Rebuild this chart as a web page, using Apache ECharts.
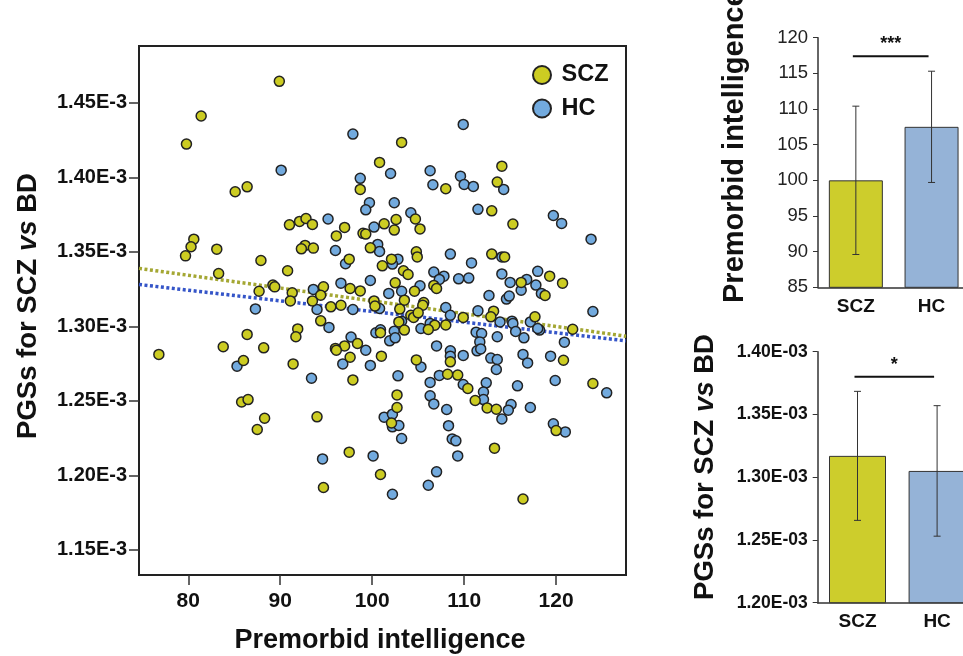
<!DOCTYPE html>
<html><head><meta charset="utf-8">
<script src="https://cdn.jsdelivr.net/npm/echarts@6/dist/echarts.min.js"></script>
<style>html,body{margin:0;padding:0;background:#fff}#c{width:963px;height:656px}</style>
</head><body><div id="c"></div>
<script>
// PGS values are expressed in units of 1E-3
const groups = ['SCZ', 'HC'];
const sczPoints = [[89.9,1.4644],[81.4,1.4411],[79.8,1.4223],[100.8,1.4100],[98.7,1.3919],[85.1,1.3903],[86.4,1.3936],[91.0,1.3681],[92.1,1.3704],[92.8,1.3724],[93.5,1.3684],[97.0,1.3664],[96.1,1.3607],[101.3,1.3688],[99.0,1.3624],[99.3,1.3619],[99.8,1.3527],[80.6,1.3585],[80.3,1.3534],[79.7,1.3473],[83.1,1.3518],[92.7,1.3543],[92.3,1.3520],[93.6,1.3525],[97.5,1.3451],[101.1,1.3406],[87.9,1.3442],[90.8,1.3373],[83.3,1.3355],[97.6,1.3254],[98.7,1.3238],[94.7,1.3265],[94.4,1.3209],[89.2,1.3277],[89.4,1.3265],[87.7,1.3236],[91.3,1.3225],[91.1,1.3171],[93.5,1.3171],[100.2,1.3171],[100.3,1.3136],[95.5,1.3131],[96.6,1.3142],[94.4,1.3037],[91.9,1.2983],[91.7,1.2930],[86.4,1.2946],[98.4,1.2885],[97.0,1.2869],[96.0,1.2852],[96.1,1.2840],[97.6,1.2793],[101.0,1.2800],[100.9,1.2957],[76.8,1.2812],[83.8,1.2863],[88.2,1.2856],[86.0,1.2771],[91.4,1.2748],[97.9,1.2641],[85.8,1.2493],[86.5,1.2509],[88.3,1.2384],[87.5,1.2308],[94.0,1.2393],[97.5,1.2156],[100.9,1.2006],[94.7,1.1919],[103.2,1.4234],[108.0,1.3923],[114.1,1.4075],[113.6,1.3968],[104.7,1.3720],[105.2,1.3654],[102.6,1.3717],[102.4,1.3646],[113.0,1.3775],[115.3,1.3686],[104.8,1.3500],[104.9,1.3466],[102.1,1.3451],[113.0,1.3485],[114.4,1.3466],[103.4,1.3373],[103.9,1.3348],[116.2,1.3295],[119.3,1.3337],[120.7,1.3290],[118.8,1.3207],[102.5,1.3292],[104.6,1.3236],[106.7,1.3275],[107.0,1.3254],[103.5,1.3176],[105.6,1.3160],[105.5,1.3142],[103.0,1.3116],[104.2,1.3075],[104.5,1.3060],[105.0,1.3091],[102.9,1.3030],[106.8,1.3008],[106.1,1.2979],[108.0,1.3010],[109.9,1.3060],[113.2,1.3102],[112.9,1.3064],[117.7,1.3064],[121.8,1.2981],[103.5,1.2975],[104.8,1.2775],[108.5,1.2762],[120.8,1.2773],[124.0,1.2617],[108.2,1.2679],[109.3,1.2673],[110.4,1.2583],[102.7,1.2540],[102.7,1.2456],[102.1,1.2352],[111.2,1.2503],[112.5,1.2453],[113.5,1.2444],[120.0,1.2301],[113.3,1.2183],[116.4,1.1842]];
const hcPoints = [[97.9,1.4290],[90.1,1.4048],[98.7,1.3993],[102.0,1.4026],[99.7,1.3829],[99.3,1.3782],[95.2,1.3720],[100.2,1.3666],[100.6,1.3550],[100.8,1.3503],[96.0,1.3509],[97.1,1.3420],[99.8,1.3308],[96.6,1.3290],[93.6,1.3248],[101.8,1.3221],[87.3,1.3117],[94.0,1.3113],[97.9,1.3113],[100.8,1.3120],[95.3,1.2993],[97.7,1.2928],[99.3,1.2840],[96.8,1.2748],[99.8,1.2738],[100.4,1.2957],[100.9,1.2977],[101.9,1.2903],[85.3,1.2733],[93.4,1.2652],[101.3,1.2391],[100.1,1.2131],[94.6,1.2111],[102.2,1.1874],[109.9,1.4355],[106.3,1.4044],[106.6,1.3950],[109.6,1.4008],[110.0,1.3952],[111.0,1.3939],[114.3,1.3919],[102.4,1.3829],[104.2,1.3762],[111.5,1.3785],[119.7,1.3744],[120.6,1.3691],[123.8,1.3585],[108.5,1.3485],[102.8,1.3451],[102.2,1.3418],[114.1,1.3466],[110.8,1.3426],[106.7,1.3364],[107.8,1.3337],[107.3,1.3315],[109.4,1.3319],[110.5,1.3324],[114.1,1.3352],[115.0,1.3295],[116.8,1.3315],[116.2,1.3243],[118.0,1.3369],[117.8,1.3277],[118.4,1.3221],[103.2,1.3236],[105.2,1.3272],[112.7,1.3207],[114.6,1.3183],[114.9,1.3203],[108.0,1.3127],[108.5,1.3075],[103.2,1.3035],[105.3,1.2986],[106.3,1.3020],[111.5,1.3104],[113.9,1.3030],[115.2,1.3035],[115.3,1.3019],[117.2,1.3030],[118.2,1.2975],[118.0,1.2986],[124.0,1.3100],[115.6,1.2966],[116.5,1.2923],[120.9,1.2894],[102.4,1.2968],[102.5,1.2923],[107.0,1.2869],[111.3,1.2961],[111.9,1.2952],[111.7,1.2896],[113.6,1.2930],[111.4,1.2836],[111.8,1.2849],[105.3,1.2728],[108.5,1.2836],[108.5,1.2800],[109.9,1.2805],[112.9,1.2787],[113.6,1.2778],[113.5,1.2711],[116.4,1.2812],[116.9,1.2755],[119.4,1.2800],[119.9,1.2637],[125.5,1.2554],[102.8,1.2668],[106.3,1.2624],[107.3,1.2671],[109.9,1.2610],[112.4,1.2621],[115.8,1.2601],[106.3,1.2534],[106.7,1.2480],[102.2,1.2411],[102.2,1.2326],[102.9,1.2335],[103.2,1.2248],[112.1,1.2560],[112.1,1.2509],[115.1,1.2476],[114.8,1.2438],[114.1,1.2379],[117.2,1.2456],[108.1,1.2442],[108.3,1.2334],[108.7,1.2245],[109.1,1.2232],[109.3,1.2131],[119.7,1.2346],[121.0,1.2292],[107.0,1.2024],[106.1,1.1934]];
const sczFit = [[74.64,1.3389],[127.6,1.2934]];
const hcFit = [[74.64,1.3281],[127.6,1.2903]];
const scatterXTicks = [80, 90, 100, 110, 120];
const scatterYTicks = [1.15, 1.20, 1.25, 1.30, 1.35, 1.40, 1.45];
const iqMean = [100.0, 107.5];
const iqErr = [10.4, 7.8];
const iqTicks = [85, 90, 95, 100, 105, 110, 115, 120];
const iqSig = [117.4, '***'];
const pgsMean = [1.317, 1.305];
const pgsErr = [0.0514, 0.052];
const pgsTicks = [1.20, 1.25, 1.30, 1.35, 1.40];
const pgsSig = [1.380, '*'];

const FONT = '"Liberation Sans", Arial, sans-serif';
const SCZ_COLOR = '#cccc22';
const HC_COLOR = '#72aade';
const SCZ_BAR = '#cdcd2c';
const HC_BAR = '#95b3d7';

function errRender(params, api) {
  const x = api.value(0), m = api.value(1), e = api.value(2);
  const top = api.coord([x, m + e]), bot = api.coord([x, m - e]);
  const st = { stroke: '#333', lineWidth: 1 };
  return { type: 'group', children: [
    { type: 'line', shape: { x1: top[0], y1: top[1], x2: bot[0], y2: bot[1] }, style: st },
    { type: 'line', shape: { x1: top[0] - 3.5, y1: top[1], x2: top[0] + 3.5, y2: top[1] }, style: st },
    { type: 'line', shape: { x1: bot[0] - 3.5, y1: bot[1], x2: bot[0] + 3.5, y2: bot[1] }, style: st }
  ]};
}
function sigRender(params, api) {
  const y = api.value(2);
  const p0 = api.coord([api.value(0), y]), p1 = api.coord([api.value(1), y]);
  return { type: 'group', children: [
    { type: 'line', shape: { x1: p0[0] - 3, y1: p0[1], x2: p1[0] - 3, y2: p1[1] }, style: { stroke: '#111', lineWidth: 2 } },
    { type: 'text', x: (p0[0] + p1[0]) / 2 - 3, y: p0[1] - 3, style: { text: api.value(3), fill: '#111', font: 'bold 18px ' + FONT, textAlign: 'center', textVerticalAlign: 'bottom' } }
  ]};
}

function barCatAxis(gi) {
  return { type: 'category', gridIndex: gi, data: groups,
    axisLine: { lineStyle: { color: '#333', width: 1.5 } },
    axisTick: { length: 5, lineStyle: { color: '#333' } },
    axisLabel: { color: '#111', fontFamily: FONT, fontWeight: 'bold', fontSize: 19, margin: 10 } };
}

const option = {
  animation: false,
  backgroundColor: '#fff',
  grid: [
    { left: 139, top: 46, width: 487, height: 529, show: true, borderColor: '#222', borderWidth: 2, outerBoundsMode: 'none' },
    { left: 818, top: 37.7, width: 151.4, height: 249.6, outerBoundsMode: 'none' },
    { left: 817.7, top: 351.7, width: 159.2, height: 251, outerBoundsMode: 'none' }
  ],
  legend: {
    data: ['SCZ', 'HC'], orient: 'vertical', left: 527, top: 58, itemWidth: 29, itemHeight: 18, itemGap: 9.5,
    icon: 'circle',
    textStyle: { fontFamily: FONT, fontWeight: 'bold', fontSize: 23.5, color: '#111', lineHeight: 22 }
  },
  xAxis: [
    { type: 'value', gridIndex: 0, min: 74.64, max: 127.6, splitLine: { show: false },
      axisLine: { lineStyle: { color: '#222', width: 2 } },
      axisTick: { customValues: scatterXTicks, length: 10, lineStyle: { color: '#333', width: 1.5 } },
      axisLabel: { customValues: scatterXTicks, color: '#111', fontFamily: FONT, fontWeight: 'bold', fontSize: 21, margin: 16 } },
    barCatAxis(1),
    barCatAxis(2)
  ],
  yAxis: [
    { type: 'value', gridIndex: 0, min: 1.1332, max: 1.4881, splitLine: { show: false },
      axisLine: { show: true, lineStyle: { color: '#222', width: 2 } },
      axisTick: { show: true, customValues: scatterYTicks, length: 10, lineStyle: { color: '#333', width: 1.5 } },
      axisLabel: { customValues: scatterYTicks, formatter: v => v.toFixed(2) + 'E-3', color: '#111', fontFamily: FONT, fontWeight: 'bold', fontSize: 20, margin: 12 } },
    { type: 'value', gridIndex: 1, min: 85, max: 120, splitLine: { show: false },
      axisLine: { show: true, lineStyle: { color: '#333', width: 1.5 } },
      axisTick: { show: true, customValues: iqTicks, length: 5, lineStyle: { color: '#333' } },
      axisLabel: { customValues: iqTicks, color: '#222', fontFamily: FONT, fontSize: 18.5, margin: 10 } },
    { type: 'value', gridIndex: 2, min: 1.20, max: 1.40, splitLine: { show: false },
      axisLine: { show: true, lineStyle: { color: '#333', width: 1.5 } },
      axisTick: { show: true, customValues: pgsTicks, length: 5, lineStyle: { color: '#333' } },
      axisLabel: { customValues: pgsTicks, formatter: v => v.toFixed(2) + 'E-03', color: '#111', fontFamily: FONT, fontWeight: 'bold', fontSize: 17.5, margin: 10 } }
  ],
  series: [
    { name: 'SCZ fit', type: 'line', xAxisIndex: 0, yAxisIndex: 0, data: sczFit, symbol: 'none', z: 1,
      lineStyle: { color: '#a4a733', width: 3.5, type: [3, 2.5] } },
    { name: 'HC fit', type: 'line', xAxisIndex: 0, yAxisIndex: 0, data: hcFit, symbol: 'none', z: 1,
      lineStyle: { color: '#3555c8', width: 3.5, type: [3, 2.5] } },
    { name: 'HC', type: 'scatter', xAxisIndex: 0, yAxisIndex: 0, data: hcPoints, symbolSize: 10, z: 2,
      itemStyle: { color: HC_COLOR, borderColor: '#222', borderWidth: 1.5, opacity: 1 } },
    { name: 'SCZ', type: 'scatter', xAxisIndex: 0, yAxisIndex: 0, data: sczPoints, symbolSize: 10, z: 3,
      itemStyle: { color: SCZ_COLOR, borderColor: '#222', borderWidth: 1.5, opacity: 1 } },
    { name: 'IQ bars', type: 'bar', xAxisIndex: 1, yAxisIndex: 1, barWidth: 54, clip: true,
      data: iqMean.map((v, i) => ({ value: v, itemStyle: { color: i === 0 ? SCZ_BAR : HC_BAR } })),
      itemStyle: { borderColor: '#333', borderWidth: 1 } },
    { name: 'IQ err', type: 'custom', xAxisIndex: 1, yAxisIndex: 1, renderItem: errRender, z: 5,
      data: iqMean.map((v, i) => [i, v, iqErr[i]]) },
    { name: 'IQ sig', type: 'custom', xAxisIndex: 1, yAxisIndex: 1, renderItem: sigRender, z: 5, clip: false,
      data: [[0, 1, iqSig[0], iqSig[1]]] },
    { name: 'PGS bars', type: 'bar', xAxisIndex: 2, yAxisIndex: 2, barWidth: 57, clip: true,
      data: pgsMean.map((v, i) => ({ value: v, itemStyle: { color: i === 0 ? SCZ_BAR : HC_BAR } })),
      itemStyle: { borderColor: '#333', borderWidth: 1 } },
    { name: 'PGS err', type: 'custom', xAxisIndex: 2, yAxisIndex: 2, renderItem: errRender, z: 5,
      data: pgsMean.map((v, i) => [i, v, pgsErr[i]]) },
    { name: 'PGS sig', type: 'custom', xAxisIndex: 2, yAxisIndex: 2, renderItem: sigRender, z: 5, clip: false,
      data: [[0, 1, pgsSig[0], pgsSig[1]]] }
  ],
  graphic: [
    { type: 'text', x: 380, y: 641, style: { text: 'Premorbid intelligence', font: 'bold 27px ' + FONT, fill: '#111', textAlign: 'center', textVerticalAlign: 'middle' } },
    { type: 'text', x: 28, y: 306, rotation: Math.PI / 2,
      style: { text: 'PGSs for SCZ {i|vs} BD', font: 'bold 27.5px ' + FONT, fill: '#111', textAlign: 'center', textVerticalAlign: 'middle',
        rich: { i: { fontStyle: 'italic', fontWeight: 'bold', fontSize: 27.5, fontFamily: FONT, fill: '#111' } } } },
    { type: 'text', x: 735, y: 303, rotation: Math.PI / 2,
      style: { text: 'Premorbid intelligence', font: 'bold 29px ' + FONT, fill: '#111', textAlign: 'left', textVerticalAlign: 'middle' } },
    { type: 'text', x: 705, y: 467, rotation: Math.PI / 2,
      style: { text: 'PGSs for SCZ {i|vs} BD', font: 'bold 27.5px ' + FONT, fill: '#111', textAlign: 'center', textVerticalAlign: 'middle',
        rich: { i: { fontStyle: 'italic', fontWeight: 'bold', fontSize: 27.5, fontFamily: FONT, fill: '#111' } } } }
  ]
};
const chart = echarts.init(document.getElementById('c'), null, { renderer: 'canvas' });
chart.setOption(option);
</script></body></html>
